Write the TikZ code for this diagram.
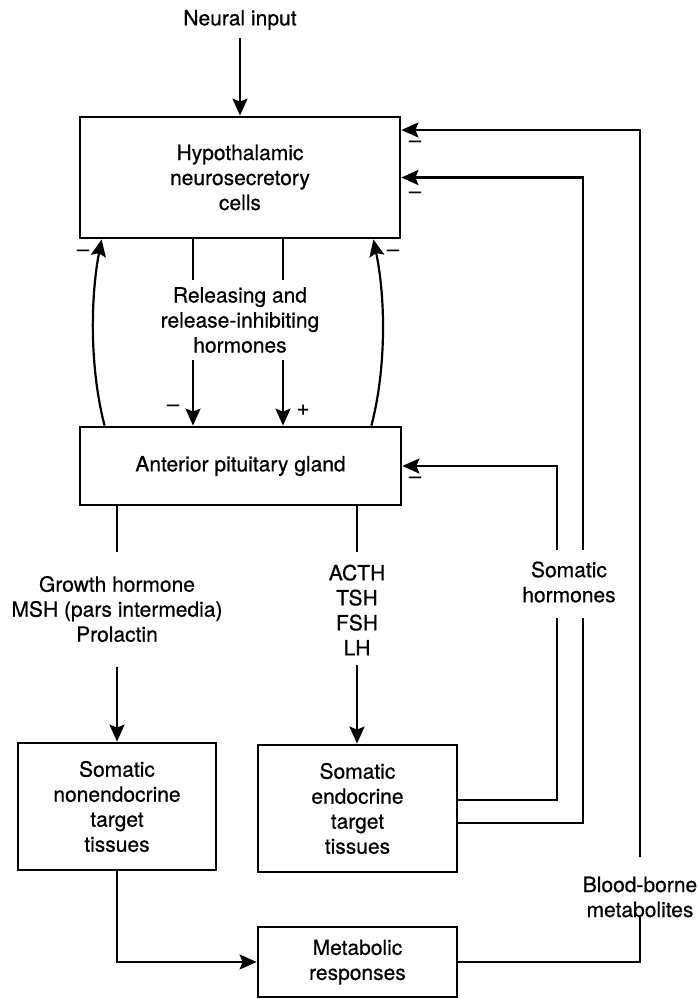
\documentclass[tikz,border=0pt]{standalone}
\usepackage{fontspec}
\setmainfont{TeX Gyre Heros}[FakeBold=0.6]
\usetikzlibrary{arrows.meta}
\begin{document}
\begin{tikzpicture}[x=1pt,y=-1pt,
  lbl/.style={font=\fontsize{21}{25}\selectfont, align=center, inner sep=0pt},
  box/.style={lbl, draw, line width=2.8pt},
  conn/.style={line width=2.2pt},
  arr/.style={conn, -{Stealth[length=17pt,width=15pt,inset=3pt]}},
  sgn/.style={font=\fontsize{22}{25}\selectfont, inner sep=0pt}]
\useasboundingbox (0,0) rectangle (699,999);

% labels
\node[lbl] (neural) at (240,20) {Neural input};
\node[lbl] (rel) at (240,320) {Releasing and\\release-inhibiting\\hormones};
\node[lbl] (gh) at (117,609) {Growth hormone\\MSH (pars intermedia)\\Prolactin};
\node[lbl] (acth) at (357,610) {ACTH\\TSH\\FSH\\LH};
\node[lbl] (soh) at (569,582) {Somatic\\hormones};
\node[lbl] (bbm) at (640,897) {Blood-borne\\metabolites};

% boxes
\node[box, minimum width=320pt, minimum height=121pt] (hyp) at (240,177.5) {Hypothalamic\\neurosecretory\\cells};
\node[box, minimum width=321pt, minimum height=78pt] (pit) at (240.5,466) {Anterior pituitary gland};
\node[box, minimum width=198pt, minimum height=127pt] (nonendo) at (117,806.5) {Somatic\\nonendocrine\\target\\tissues};
\node[box, minimum width=199pt, minimum height=127pt] (endo) at (357.5,808.5) {Somatic\\endocrine\\target\\tissues};
\node[box, minimum width=199pt, minimum height=70pt] (metab) at (357.5,962) {Metabolic\\responses};

% free ends of broken connectors
\coordinate (nA) at (240,38);
\coordinate (r1a) at (193,280); \coordinate (r1b) at (193,360);
\coordinate (r2a) at (283,280); \coordinate (r2b) at (283,360);
\coordinate (g1a) at (117,552); \coordinate (g1b) at (117,667);
\coordinate (a1a) at (357,552); \coordinate (a1b) at (357,665);
\coordinate (s1a) at (557,618); \coordinate (s1b) at (557,550);
\coordinate (s2a) at (583,618); \coordinate (s2b) at (583,550);
\coordinate (b1a) at (640,917); \coordinate (b1b) at (640,857);

% connectors
\draw[arr] (nA) -- (hyp.north);
\draw[conn] (hyp.south -| r1a) -- (r1a);
\draw[arr] (r1b) -- (pit.north -| r1b);
\draw[conn] (hyp.south -| r2a) -- (r2a);
\draw[arr] (r2b) -- (pit.north -| r2b);

\draw[arr] ([xshift=26pt]pit.north west) .. controls (90,370) and (90,300) .. ([xshift=23pt]hyp.south west);
\draw[arr] ([xshift=-31pt]pit.north east) .. controls (386,370) and (386,300) .. ([xshift=-28pt]hyp.south east);

\draw[conn] (pit.south -| g1a) -- (g1a);
\draw[arr] (g1b) -- (nonendo.north);
\draw[conn] (pit.south -| a1a) -- (a1a);
\draw[arr] (a1b) -- (endo.north -| a1b);

\draw[conn] ([yshift=8.5pt]endo.east) -| (s1a);
\draw[arr] (s1b) |- (pit.east);
\draw[conn] ([yshift=-14.5pt]endo.east) -| (s2a);
\draw[arr] (s2b) |- (hyp.east);
\draw[conn] (metab.east) -| (b1a);
\draw[arr] (b1b) |- ([yshift=47.5pt]hyp.east);
\draw[arr] (nonendo.south) |- (metab.west);

% signs
\node[sgn] (m1) at (83,253) {\textendash};
\node[sgn] (m2) at (393,253) {\textendash};
\node[sgn] (m3) at (415,144) {\textendash};
\node[sgn] (m4) at (415,195) {\textendash};
\node[sgn] (m5) at (415,480) {\textendash};
\node[sgn] (m6) at (173,408) {\textendash};
\node[sgn] (p1) at (303,410) {+};
\end{tikzpicture}
\end{document}
